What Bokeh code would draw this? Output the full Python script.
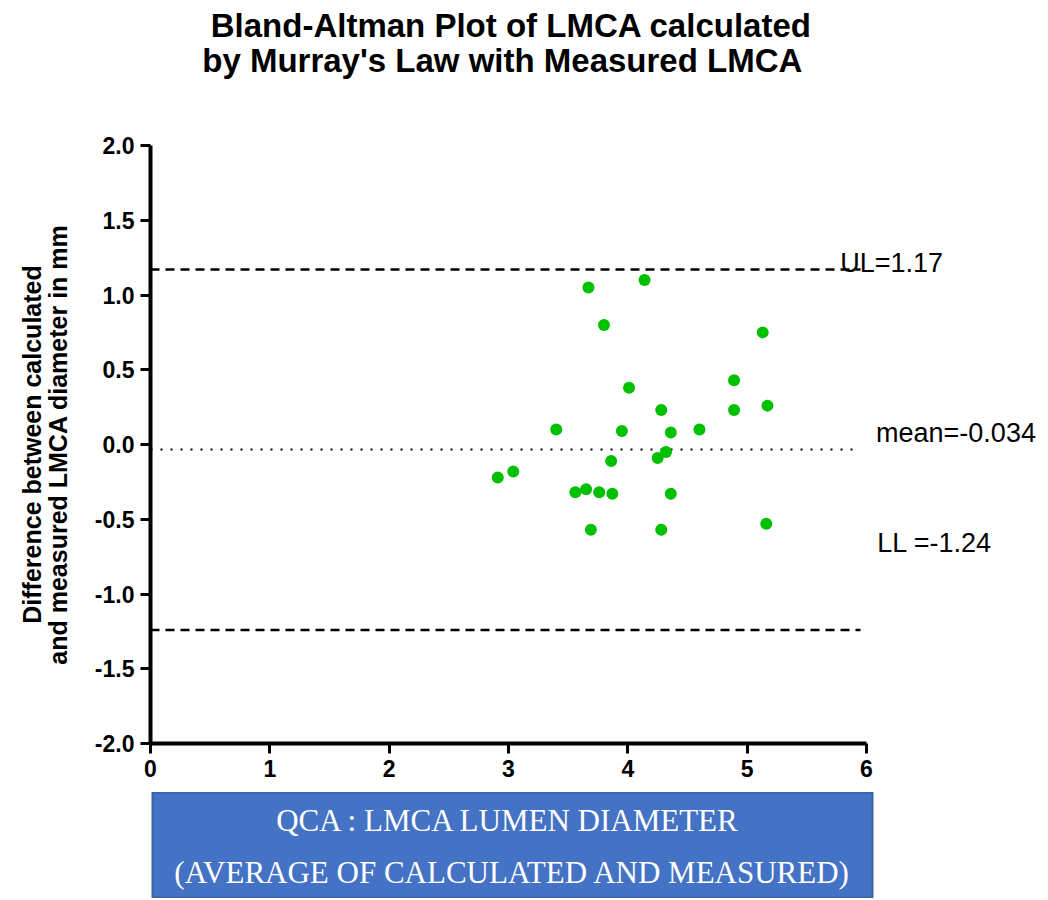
from bokeh.plotting import figure
from bokeh.layouts import column
from bokeh.models import Range1d, FixedTicker, NumeralTickFormatter, Label
from bokeh.embed import file_html
from bokeh.resources import INLINE

# Average of calculated and measured LMCA diameter (mm)
avg_mm = [3.67, 4.14, 3.80, 5.13, 4.89, 4.01, 4.28, 4.89, 5.17, 3.40, 3.95, 4.36, 4.60,
          4.32, 4.25, 3.86, 2.91, 3.04, 3.56, 3.65, 3.76, 3.87, 4.36, 3.69, 4.28, 5.16]
# Difference between calculated and measured (mm)
diff_mm = [1.05, 1.10, 0.80, 0.75, 0.43, 0.38, 0.23, 0.23, 0.26, 0.10, 0.09, 0.08, 0.10,
           -0.05, -0.09, -0.11, -0.22, -0.18, -0.32, -0.30, -0.32, -0.33, -0.33, -0.57, -0.57, -0.53]

upper_limit = 1.17
mean_diff = -0.034
lower_limit = -1.24

x_ticks = [0, 1, 2, 3, 4, 5, 6]
y_ticks = [-2.0, -1.5, -1.0, -0.5, 0.0, 0.5, 1.0, 1.5, 2.0]

title_lines = ["Bland-Altman Plot of LMCA calculated", "by Murray's Law   with Measured LMCA"]
y_label = "Difference between calculated\nand measured LMCA diameter in mm"
x_label_lines = ["QCA : LMCA  LUMEN DIAMETER", "(AVERAGE OF CALCULATED AND MEASURED)"]
ref_texts = ["UL=1.17", "mean=-0.034", "LL =-1.24"]

SANS = "Liberation Sans"
SERIF = "Liberation Serif"


def blank_panel(height, left, right, bg):
    f = figure(width=1040, height=height, x_range=Range1d(0, 1), y_range=Range1d(0, 1),
               x_axis_type=None, y_axis_type=None, output_backend="svg",
               toolbar_location=None, frame_align=False,
               min_border_left=left, min_border_right=right, min_border_top=0, min_border_bottom=0)
    f.grid.visible = False
    f.background_fill_color = bg
    f.border_fill_color = "white"
    f.outline_line_color = None
    return f


# ---- title panel ----
head = blank_panel(133, 0, 0, "white")
for yy, t in zip([0.812, 0.549], title_lines):
    head.add_layout(Label(x=0.4913, y=yy, text=t, text_font=SANS, text_font_size="33px",
                          text_font_style="bold", text_align="center", text_baseline="middle",
                          text_color="black"))

# ---- main plot: frame spans from the y axis to the right edge (room for limit labels) ----
p = figure(width=1040, height=659, x_range=Range1d(0, 7.458), y_range=Range1d(-2, 2),
           output_backend="svg", toolbar_location=None, frame_align=False,
           min_border_left=150, min_border_right=0, min_border_top=12, min_border_bottom=49)
p.outline_line_color = None
p.grid.visible = False
p.background_fill_color = "white"
p.border_fill_color = "white"

for ax in (p.xaxis[0], p.yaxis[0]):
    ax.axis_line_width = 4
    ax.axis_line_color = "black"
    ax.major_tick_line_width = 3
    ax.major_tick_line_color = "black"
    ax.major_tick_out = 10
    ax.major_tick_in = 0
    ax.minor_tick_line_color = None
    ax.major_label_text_font = SANS
    ax.major_label_text_font_style = "bold"
    ax.major_label_text_font_size = "23px"
    ax.major_label_text_color = "black"
    ax.major_label_standoff = 6

p.xaxis.bounds = (0, 6)
p.yaxis.bounds = (-2, 2)
p.xaxis.ticker = FixedTicker(ticks=x_ticks)
p.yaxis.ticker = FixedTicker(ticks=y_ticks)
p.yaxis.formatter = NumeralTickFormatter(format="0.0")

p.yaxis.axis_label = y_label
p.yaxis.axis_label_text_font = SANS
p.yaxis.axis_label_text_font_style = "bold"
p.yaxis.axis_label_text_font_size = "25px"
p.yaxis.axis_label_text_color = "black"
p.yaxis.axis_label_text_line_height = 0.92
p.yaxis.axis_label_standoff = 20

line_end = 5.95
p.segment(x0=[0, 0], y0=[upper_limit, lower_limit], x1=[line_end, line_end],
          y1=[upper_limit, lower_limit], line_color="black", line_width=2.5, line_dash="9 6")
p.segment(x0=[0], y0=[mean_diff], x1=[line_end], y1=[mean_diff],
          line_color="black", line_width=2, line_dash="2 8")

p.scatter(avg_mm, diff_mm, size=12, fill_color="#00C000", line_color=None)

# reference line labels
p.add_layout(Label(x=5.78, y=1.217, text=ref_texts[0], text_font=SANS, text_font_size="27px",
                   text_baseline="middle", text_color="black"))
p.add_layout(Label(x=6.08, y=0.074, text=ref_texts[1], text_font=SANS, text_font_size="27px",
                   text_baseline="middle", text_color="black"))
p.add_layout(Label(x=6.09, y=-0.662, text=ref_texts[2], text_font=SANS, text_font_size="27px",
                   text_baseline="middle", text_color="black"))

# ---- x axis label box ----
box = blank_panel(106, 152, 168, "#4472C4")
box.outline_line_color = "#3A62A8"
box.outline_line_width = 2
for yy, t in zip([0.736, 0.245], x_label_lines):
    box.add_layout(Label(x=0.5, y=yy, text=t, text_font=SERIF, text_font_size="31px",
                         text_color="white", text_align="center", text_baseline="middle"))

layout = column(head, p, box, spacing=0)
open("out.html", "w").write(file_html(layout, INLINE))
